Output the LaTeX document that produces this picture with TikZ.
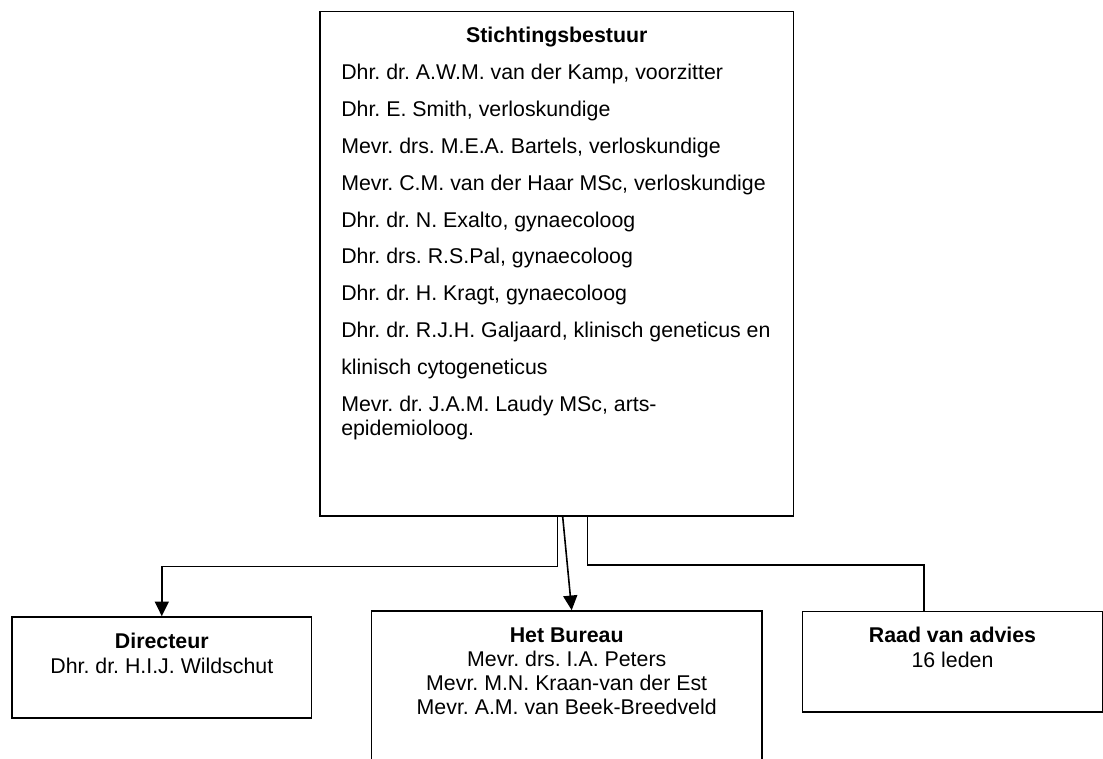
\documentclass[tikz,border=0pt]{standalone}
\usepackage{fontspec}
\setmainfont{Liberation Sans}
\usetikzlibrary{arrows.meta}
\begin{document}
\frenchspacing
\begin{tikzpicture}[x=0.75pt,y=-0.75pt,
  box/.style={draw, line width=1.2pt, inner sep=0pt},
  txt/.style={inner sep=0pt, anchor=base west, font=\fontsize{16pt}{19pt}\selectfont},
  ctxt/.style={inner sep=0pt, anchor=base, font=\fontsize{16pt}{19pt}\selectfont},
  btxt/.style={ctxt, font=\fontsize{16pt}{19pt}\selectfont\bfseries},
  conn/.style={line width=1.2pt},
  tip/.style={-{Triangle[width=10.5pt,length=11pt]}}]
\path[use as bounding box, clip] (0,0) rectangle (1103,758);

% boxes
\node[box, minimum width=355.1pt, minimum height=378.3pt] (bestuur) at (556.75,263.8) {};
\node[box, minimum width=224.7pt, minimum height=75.75pt] (dir) at (161.8,667.5) {};
\node[box, minimum width=292.95pt, minimum height=141.75pt] (bureau) at (566.7,705.5) {};
\node[box, minimum width=224.8pt, minimum height=75.4pt] (raad) at (952.5,661.75) {};

% Stichtingsbestuur text
\node[btxt] (t0) at (556.75,42.7) {Stichtingsbestuur};
\foreach \yy/\tt [count=\i] in {
  79.3/{Dhr. dr. A.W.M. van der Kamp, voorzitter},
  116.8/{Dhr. E. Smith, verloskundige},
  153.8/{Mevr. drs. M.E.A. Bartels, verloskundige},
  190.5/{Mevr. C.M. van der Haar MSc, verloskundige},
  227.8/{Dhr. dr. N. Exalto, gynaecoloog},
  263.8/{Dhr. drs. R.S.Pal, gynaecoloog},
  300.8/{Dhr. dr. H. Kragt, gynaecoloog},
  337.8/{Dhr. dr. R.J.H. Galjaard, klinisch geneticus en},
  374.8/{klinisch cytogeneticus},
  411.8/{Mevr. dr. J.A.M. Laudy MSc, arts-},
  435.8/{epidemioloog.}}
  \node[txt] (l\i) at (341,\yy) {\tt};

% Directeur
\node[btxt] (d0) at (161.8,648.3) {Directeur};
\node[ctxt] (d1) at (161.8,673.8) {Dhr. dr. H.I.J. Wildschut};

% Het Bureau
\node[btxt] (b0) at (566.7,642.5) {Het Bureau};
\node[ctxt] (b1) at (566.7,666.5) {Mevr. drs. I.A. Peters};
\node[ctxt] (b2) at (566.7,690.5) {Mevr. M.N. Kraan-van der Est};
\node[ctxt] (b3) at (566.7,714.5) {Mevr. A.M. van Beek-Breedveld};

% Raad van advies
\node[btxt] (r0) at (952.5,642.5) {Raad van advies};
\node[ctxt] (r1t) at (952.5,667.8) {16 leden};

% connectors
\coordinate (lc) at (557.3,566.5);
\coordinate (m1) at (562.7,516);
\coordinate (m2) at (571.7,611);
\coordinate (rc1) at (587.3,564.7);
\coordinate (rc2) at (924,564.7);

\draw[conn,tip] (bestuur.south -| lc) -- (lc) -- (lc -| dir.north) -- (dir.north);
\draw[conn,tip] (bestuur.south -| m1) -- (bureau.north -| m2);
\draw[conn] (bestuur.south -| rc1) -- (rc1) -- (rc2) -- (raad.north -| rc2);
\end{tikzpicture}
\end{document}
